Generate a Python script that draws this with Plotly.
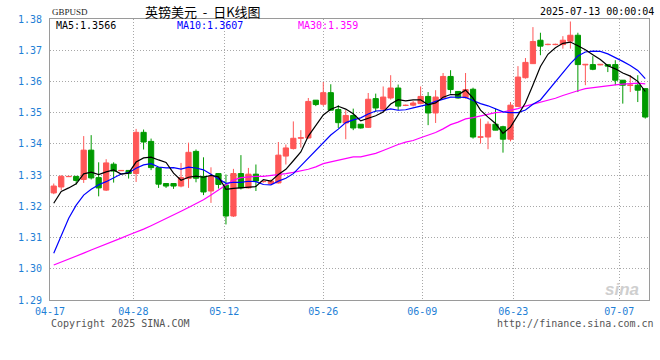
import plotly.graph_objects as go

# ---------------- data ----------------
opens = [1.3243, 1.3262, 1.3295, 1.3296, 1.3286, 1.3380, 1.3292, 1.3252, 1.3335, 1.3314,
         1.3315, 1.3305, 1.3437, 1.3408, 1.3324, 1.3273, 1.3273, 1.3265, 1.3289, 1.3376,
         1.3296, 1.3249, 1.3305, 1.3268, 1.3169, 1.3305, 1.3259, 1.3303, 1.3279, 1.3273,
         1.3275, 1.3361, 1.3385, 1.3418, 1.3419, 1.3540, 1.3527, 1.3564, 1.3510, 1.3467,
         1.3491, 1.3463, 1.3453, 1.3545, 1.3511, 1.3547, 1.3579, 1.3523, 1.3524, 1.3529,
         1.3552, 1.3499, 1.3547, 1.3616, 1.3568, 1.3548, 1.3575, 1.3421, 1.3422, 1.3463,
         1.3455, 1.3415, 1.3520, 1.3612, 1.3657, 1.3732, 1.3718, 1.3718, 1.3718, 1.3729,
         1.3748, 1.3653, 1.3654, 1.3653, 1.3654, 1.3654, 1.3604, 1.3587, 1.3588, 1.3577]
highs = [1.3273, 1.3300, 1.3297, 1.3296, 1.3425, 1.3428, 1.3341, 1.3351, 1.3341, 1.3316,
         1.3315, 1.3448, 1.3446, 1.3417, 1.3324, 1.3273, 1.3273, 1.3339, 1.3404, 1.3382,
         1.3357, 1.3325, 1.3305, 1.3302, 1.3320, 1.3364, 1.3323, 1.3334, 1.3282, 1.3286,
         1.3406, 1.3398, 1.3472, 1.3444, 1.3547, 1.3540, 1.3598, 1.3591, 1.3524, 1.3508,
         1.3513, 1.3463, 1.3563, 1.3561, 1.3584, 1.3620, 1.3590, 1.3526, 1.3537, 1.3584,
         1.3566, 1.3572, 1.3627, 1.3636, 1.3568, 1.3627, 1.3580, 1.3481, 1.3472, 1.3513,
         1.3458, 1.3534, 1.3649, 1.3675, 1.3774, 1.3756, 1.3721, 1.3721, 1.3745, 1.3792,
         1.3756, 1.3656, 1.3681, 1.3656, 1.3655, 1.3668, 1.3604, 1.3620, 1.3620, 1.3577]
lows = [1.3239, 1.3252, 1.3294, 1.3270, 1.3275, 1.3286, 1.3232, 1.3249, 1.3276, 1.3313,
        1.3289, 1.3278, 1.3382, 1.3316, 1.3259, 1.3259, 1.3256, 1.3261, 1.3259, 1.3277,
        1.3236, 1.3211, 1.3257, 1.3142, 1.3166, 1.3254, 1.3257, 1.3249, 1.3276, 1.3271,
        1.3273, 1.3334, 1.3382, 1.3388, 1.3417, 1.3521, 1.3521, 1.3508, 1.3451, 1.3415,
        1.3444, 1.3449, 1.3451, 1.3502, 1.3504, 1.3542, 1.3508, 1.3521, 1.3520, 1.3527,
        1.3460, 1.3467, 1.3545, 1.3561, 1.3545, 1.3545, 1.3417, 1.3401, 1.3383, 1.3444,
        1.3372, 1.3408, 1.3520, 1.3609, 1.3657, 1.3684, 1.3716, 1.3716, 1.3705, 1.3705,
        1.3566, 1.3588, 1.3636, 1.3652, 1.3630, 1.3588, 1.3529, 1.3566, 1.3534, 1.3481]
closes = [1.3265, 1.3296, 1.3296, 1.3283, 1.3380, 1.3291, 1.3259, 1.3339, 1.3313, 1.3315,
          1.3305, 1.3437, 1.3406, 1.3324, 1.3271, 1.3265, 1.3265, 1.3292, 1.3373, 1.3290,
          1.3246, 1.3296, 1.3270, 1.3169, 1.3305, 1.3259, 1.3303, 1.3281, 1.3280, 1.3281,
          1.3364, 1.3387, 1.3418, 1.3420, 1.3536, 1.3526, 1.3564, 1.3508, 1.3468, 1.3491,
          1.3451, 1.3451, 1.3543, 1.3515, 1.3550, 1.3579, 1.3521, 1.3524, 1.3531, 1.3552,
          1.3499, 1.3550, 1.3616, 1.3574, 1.3547, 1.3574, 1.3422, 1.3423, 1.3463, 1.3444,
          1.3415, 1.3524, 1.3614, 1.3661, 1.3728, 1.3713, 1.3719, 1.3719, 1.3732, 1.3748,
          1.3654, 1.3655, 1.3639, 1.3655, 1.3649, 1.3604, 1.3588, 1.3589, 1.3572, 1.3486]

# moving-average values at the left edge (earlier history not shown)
ma5_head = [1.3210, 1.3248, 1.3259, 1.3272]
ma10_head = [1.3050, 1.3108, 1.3162, 1.3204, 1.3236, 1.3255, 1.3269, 1.3279, 1.3292]
ma30_head = [1.3012, 1.3021, 1.3031, 1.3040, 1.3050, 1.3060, 1.3069, 1.3079, 1.3088, 1.3098,
             1.3108, 1.3117, 1.3127, 1.3138, 1.3149, 1.3162, 1.3173, 1.3184, 1.3196, 1.3208,
             1.3221, 1.3236, 1.3253, 1.3269, 1.3284, 1.3292, 1.3295, 1.3296, 1.3296]

ma_label_values = ["1.3566", "1.3607", "1.359"]

tick_text = ["04-17", "04-28", "05-12", "05-26", "06-09", "06-23", "07-07"]
tick_pos = [-0.5, 10.63, 22.78, 36.0, 49.22, 61.38, 75.53]

y_ticks = [1.29, 1.30, 1.31, 1.32, 1.33, 1.34, 1.35, 1.36, 1.37, 1.38]

# ---------------- derived ----------------
n = len(closes)
idx = list(range(n))


def moving_average(period, head):
    out = list(head)
    for i in range(len(head), n):
        out.append(sum(closes[i - period + 1:i + 1]) / period)
    return out


ma5 = moving_average(5, ma5_head)
ma10 = moving_average(10, ma10_head)
ma30 = moving_average(30, ma30_head)

RED = "#ff5757"
GREEN = "#009a00"
AXIS_BLUE = "#1f7fd6"

fig = go.Figure()

for is_up, col in ((True, RED), (False, GREEN)):
    sel = [i for i in idx if (closes[i] >= opens[i]) == is_up]
    wx, wy = [], []
    for i in sel:
        wx += [i, i, None]
        wy += [lows[i], highs[i], None]
    fig.add_trace(go.Scatter(x=wx, y=wy, mode="lines",
                             line=dict(color=col, width=1),
                             hoverinfo="skip", showlegend=False))
    fig.add_trace(go.Bar(x=sel,
                         base=[min(opens[i], closes[i]) for i in sel],
                         y=[abs(closes[i] - opens[i]) for i in sel],
                         width=0.7,
                         marker=dict(color=col, line=dict(color=col, width=1)),
                         showlegend=False))

for vals, col in ((ma30, "#ff00ff"), (ma10, "#0000ff"), (ma5, "#000000")):
    fig.add_trace(go.Scatter(x=idx, y=vals, mode="lines",
                             line=dict(color=col, width=1.2),
                             showlegend=False))

L, R, T, B = 50, 11, 19, 60
W, H = 660, 360
pw, ph = W - L - R, H - T - B


def px(x):
    return (x - L) / pw


def py(y):
    return (H - B - y) / ph


mono = "DejaVu Sans Mono"
ann = []


def text(t, x, y, anchor, size, color, family=mono, **kw):
    ann.append(dict(text=t, x=px(x), y=py(y), xref="paper", yref="paper",
                    xanchor=anchor, yanchor="middle", showarrow=False,
                    font=dict(family=family, size=size, color=color, **kw)))


text("GBPUSD", 50, 12, "left", 9, "#222222", family="Liberation Serif")
text("英镑美元\u00a0\u00a0-\u00a0\u00a0日K线图", 203, 12, "center", 13, "#000000",
     family="Noto Sans CJK SC")
text("2025-07-13 00:00:04", 656, 12, "right", 10, "#000000")
text("MA5:" + ma_label_values[0], 54, 25, "left", 10, "#000000")
text("MA10:" + ma_label_values[1], 175, 25, "left", 10, "#0000ff")
text("MA30:" + ma_label_values[2], 296, 25, "left", 10, "#ff00ff")
text("Copyright 2025 SINA.COM", 49, 323, "left", 10, "#555555")
text("http://finance.sina.com.cn", 656, 323, "right", 10, "#555555")
text("sina", 622, 289, "center", 17, "#cfcfcf", family="Liberation Sans",
     style="italic", weight="bold")

axis_common = dict(showgrid=True, gridcolor="#a8a8a8", griddash="1px,2px", gridwidth=1,
                   showline=True, mirror=True, linecolor="#9a9a9a", linewidth=1,
                   zeroline=False, ticks="", automargin=False,
                   tickfont=dict(family=mono, size=10, color=AXIS_BLUE))

fig.update_layout(
    template="none",
    width=W, height=H,
    margin=dict(l=L, r=R, t=T, b=B, pad=0),
    paper_bgcolor="white", plot_bgcolor="white",
    barmode="overlay",
    showlegend=False,
    xaxis=dict(range=[-0.5, n - 0.5], tickmode="array", tickvals=tick_pos,
               ticktext=tick_text, ticklabelstandoff=2, **axis_common),
    yaxis=dict(range=[1.29, 1.38], tickmode="array", tickvals=y_ticks,
               ticktext=["%.2f" % v for v in y_ticks], ticklabelstandoff=5,
               **axis_common),
    annotations=ann,
)

fig.write_html("out.html")
